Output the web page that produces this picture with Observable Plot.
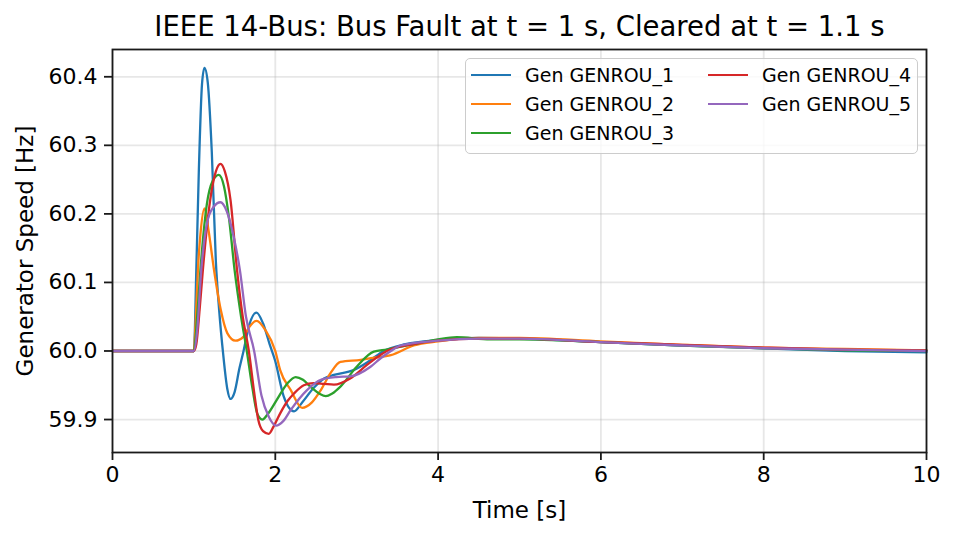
<!DOCTYPE html>
<html>
<head>
<meta charset="utf-8">
<script src="https://cdn.jsdelivr.net/npm/d3@7"></script>
<script src="https://cdn.jsdelivr.net/npm/@observablehq/plot@0.6"></script>
<style>
  body { margin: 0; background: #fff; font-family: "DejaVu Sans", sans-serif; }
  #fig { position: relative; width: 955px; height: 537px; }
  #legend { position: absolute; left: 465px; top: 58px; width: 451px; height: 94px;
    border: 1.7px solid #cccccc; border-radius: 5px; background: rgba(255,255,255,0.8); }
  .entry { position: absolute; height: 24px; display: flex; align-items: center; font-size: 19px; white-space: nowrap; color: #000; }
  .entry .h { width: 40px; height: 2.2px; margin-right: 14px; }
</style>
</head>
<body>
<div id="fig"></div>
<script>
const titleText = "IEEE 14-Bus: Bus Fault at t = 1 s, Cleared at t = 1.1 s";
const xLabel = "Time [s]";
const yLabel = "Generator Speed [Hz]";
const xTicks = [0, 2, 4, 6, 8, 10];
const yTicks = [59.9, 60.0, 60.1, 60.2, 60.3, 60.4];
const names = ["Gen GENROU_1", "Gen GENROU_2", "Gen GENROU_3", "Gen GENROU_4", "Gen GENROU_5"];
const colors = ["#1f77b4", "#ff7f0e", "#2ca02c", "#d62728", "#9467bd"];

// [time s, speed Hz]
const gen1 = [[0,60.0],[1.0,60.0],[1.03,60.12],[1.06,60.26],[1.10,60.39],[1.13,60.413],[1.17,60.392],[1.22,60.29],[1.27,60.13],[1.31,60.06],[1.36,59.995],[1.41,59.945],[1.45,59.930],[1.50,59.94],[1.56,59.975],[1.61,60.0],[1.68,60.038],[1.77,60.056],[1.85,60.04],[1.93,60.01],[2.0,59.985],[2.10,59.935],[2.23,59.912],[2.33,59.925],[2.47,59.946],[2.6,59.96],[2.72,59.965],[2.96,59.972],[3.15,59.985],[3.33,60.0],[3.6,60.01],[4.0,60.016],[4.5,60.019],[5.0,60.018],[6.0,60.013],[7.0,60.008],[8.0,60.004],[9.0,60.0],[10,59.998]];
const gen2 = [[0,60.0],[1.0,60.0],[1.02,60.04],[1.05,60.12],[1.08,60.17],[1.13,60.208],[1.18,60.176],[1.245,60.12],[1.33,60.06],[1.41,60.026],[1.51,60.015],[1.61,60.021],[1.68,60.035],[1.77,60.044],[1.88,60.03],[2.0,60.0],[2.06,59.972],[2.19,59.943],[2.33,59.917],[2.45,59.925],[2.56,59.943],[2.68,59.968],[2.80,59.984],[3.05,59.987],[3.2,59.99],[3.42,59.994],[3.7,60.008],[4.0,60.014],[4.5,60.019],[5.0,60.019],[6.0,60.014],[7.0,60.009],[8.0,60.005],[9.0,60.003],[10,60.001]];
const gen3 = [[0,60.0],[1.0,60.0],[1.04,60.05],[1.08,60.118],[1.16,60.215],[1.23,60.248],[1.306,60.257],[1.37,60.24],[1.43,60.195],[1.50,60.118],[1.58,60.05],[1.65,60.0],[1.72,59.945],[1.78,59.908],[1.84,59.90],[1.92,59.91],[2.02,59.929],[2.15,59.953],[2.25,59.962],[2.34,59.958],[2.43,59.948],[2.62,59.934],[2.70,59.938],[2.80,59.948],[3.0,59.977],[3.21,59.999],[3.37,60.002],[3.7,60.01],[4.0,60.017],[4.23,60.02],[4.64,60.017],[5.0,60.017],[6.0,60.013],[7.0,60.008],[8.0,60.004],[9.0,60.001],[10,60.0]];
const gen4 = [[0,60.0],[1.0,60.0],[1.03,60.01],[1.07,60.06],[1.11,60.118],[1.20,60.22],[1.27,60.262],[1.327,60.273],[1.38,60.262],[1.45,60.22],[1.53,60.118],[1.60,60.05],[1.675,60.0],[1.74,59.94],[1.79,59.90],[1.85,59.883],[1.92,59.879],[1.98,59.89],[2.06,59.909],[2.15,59.927],[2.23,59.938],[2.35,59.95],[2.47,59.953],[2.60,59.952],[2.72,59.951],[2.92,59.960],[3.13,59.980],[3.37,60.0],[3.7,60.01],[4.0,60.015],[4.5,60.018],[5.0,60.018],[6.0,60.013],[7.0,60.009],[8.0,60.005],[9.0,60.002],[10,60.001]];
const gen5 = [[0,60.0],[1.0,60.0],[1.04,60.03],[1.09,60.118],[1.16,60.186],[1.24,60.21],[1.327,60.217],[1.40,60.205],[1.49,60.166],[1.565,60.118],[1.64,60.05],[1.74,60.0],[1.83,59.935],[1.92,59.904],[2.01,59.891],[2.10,59.898],[2.19,59.914],[2.39,59.943],[2.56,59.958],[2.75,59.962],[2.92,59.963],[3.17,59.977],[3.29,59.989],[3.42,60.0],[3.54,60.008],[4.0,60.015],[4.5,60.018],[5.0,60.018],[6.0,60.013],[7.0,60.008],[8.0,60.004],[9.0,60.002],[10,60.0]];

const seriesData = [gen1, gen2, gen3, gen4, gen5];
const rows = seriesData.flatMap((d, i) => d.map(([t, v]) => ({t, v, name: names[i]})));

const chart = Plot.plot({
  width: 955,
  height: 537,
  marginLeft: 112,
  marginRight: 29,
  marginTop: 49,
  marginBottom: 85,
  style: {fontFamily: "DejaVu Sans", fontSize: "22px", color: "#000", background: "#fff", overflow: "visible"},
  x: {domain: [0, 10]},
  y: {domain: [59.8519, 60.4398]},
  color: {domain: names, range: colors},
  marks: [
    Plot.gridX(xTicks, {stroke: "#b0b0b0", strokeOpacity: 0.3, strokeWidth: 1.8}),
    Plot.gridY(yTicks, {stroke: "#b0b0b0", strokeOpacity: 0.3, strokeWidth: 1.8}),
    Plot.line(rows, {x: "t", y: "v", z: "name", stroke: "name", curve: "monotone-x", strokeWidth: 2.3}),
    Plot.frame({stroke: "#1a1a1a", strokeWidth: 1.8}),
    Plot.axisX(xTicks, {tickSize: 8, tickPadding: 6, strokeWidth: 1.8, stroke: "#1a1a1a", fontSize: 22, label: null, tickFormat: d => String(d)}),
    Plot.axisY(yTicks, {tickSize: 8, tickPadding: 7, strokeWidth: 1.8, stroke: "#1a1a1a", fontSize: 22, label: null, tickFormat: d3.format(".1f")}),
    Plot.text([xLabel], {frameAnchor: "bottom", lineAnchor: "middle", textAnchor: "middle", dy: 58, fontSize: 23}),
    Plot.text([yLabel], {frameAnchor: "left", lineAnchor: "middle", textAnchor: "middle", dx: -87, rotate: -90, fontSize: 23}),
    Plot.text([titleText], {frameAnchor: "top", lineAnchor: "middle", textAnchor: "middle", dy: -22, fontSize: 27.5})
  ]
});

const fig = document.getElementById("fig");
fig.appendChild(chart);
const legend = document.createElement("div");
legend.id = "legend";
names.forEach((n, i) => {
  const col = Math.floor(i / 3), row = i % 3;
  const e = document.createElement("div");
  e.className = "entry";
  e.style.left = (5 + col * 237) + "px";
  e.style.top = (4 + row * 29) + "px";
  const h = document.createElement("span");
  h.className = "h";
  h.style.background = colors[i];
  const s = document.createElement("span");
  s.textContent = n;
  e.appendChild(h); e.appendChild(s);
  legend.appendChild(e);
});
fig.appendChild(legend);
</script>
</body>
</html>
